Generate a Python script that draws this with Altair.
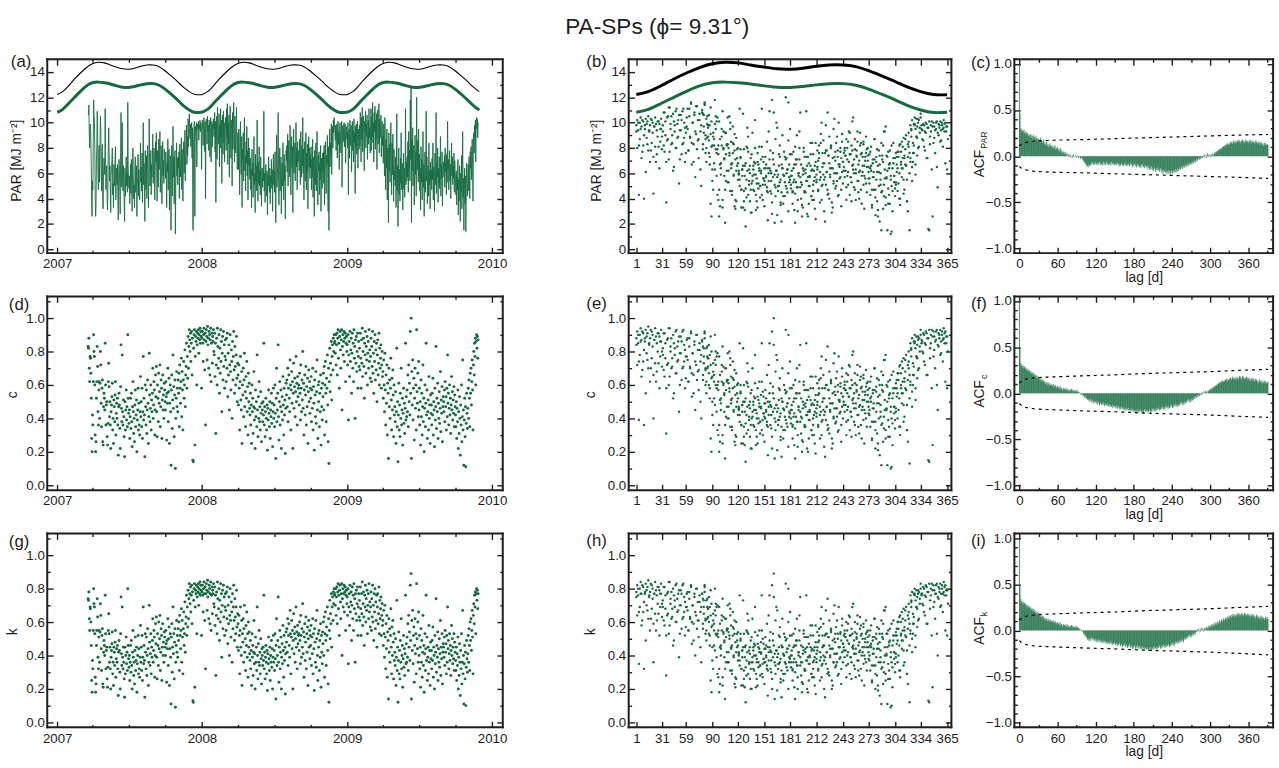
import altair as alt
import pandas as pd

FONT = "Liberation Sans"
INK = "#1e1e1e"
GREEN = "#146b40"
TICK_FS = 13.5
H = 197
W1, W2, W3 = 463, 328, 263

TITLE = "PA-SPs (ϕ= 9.31°)"

# ---------------- daily PAR [MJ m-2] x10 (2007 starts 20 March) ----------------
PAR_2007 = """
107 106 114 90 80 99 98 86 67 36 26 54
47 82 118 105 101 79 39 26 34 68 82 109 93 58 47 75 82 53 80 105 95 64 46 76 83 34 32 62 72 68
59 111 79 47 63 66 38 31 48 81 96 77 54 66 47 29 58 63 69 80 43 52 33 67 62 50 71 81 39 56 64
51 67 46 23 60 71 62 44 28 76 108 59 49 100 57 46 66 53 37 22 64 42 58 73 50 60 45 116 67 55
48 58 36 53 67 44 71 49 30 60 80 57 40 51 33 62 73 45 54 66 26 50 58 75 42 63 46 39 57 84 53
65 46 76 37 57 100 51 68 55 22 78 61 47 74 40 59 82 64 33 54 103 70 50 60 78 43 67 57 72 91 52
62 80 74 39 58 85 69 92 57 38 78 67 49 87 63 73 93 45 61 82 75 36 66 85 58 70 52 79 74 65
56 77 66 33 68 61 87 47 69 79 31 61 74 55 15 71 82 42 63 97 57 73 36 67 78 12 50 64 84 58 72
51 73 64 77 40 83 67 57 72 88 47 79 66 38 73 85 60 69 94 54 76 82 98 67 89 74 103 81 96 107
95 87 99 81 93 100 72 96 16 15 89 98 101 26 84 97 94 100 65 92 99 96 101 86 98 95 102 93 100 97 63
"""
PAR_2008 = """
98 102 94 82 100 104 97 77 101 40 95 103 99 83 105 93 98 78 102 100 73 97 104 69 94 101 81 99 95 103 89
93 108 77 101 37 86 105 71 112 99 83 90 107 65 98 80 111 88 102 52 94 106 75 109 84 100 69 92 104
95 78 111 88 115 67 100 83 106 57 91 113 86 72 102 93 50 108 79 97 116 87 69 105 89 76 98 112 81 63 92
87 63 95 76 43 82 101 67 59 89 33 79 71 92 54 83 104 62 74 46 85 68 97 58 78 39 88 66 80 60
55 72 47 63 33 79 58 68 41 62 89 51 60 29 75 54 66 46 102 59 38 69 52 81 50 62 43 73 56 34 64
58 49 64 54 109 46 60 37 57 67 51 42 62 27 59 50 73 55 45 64 36 58 53 71 48 63 30 57 75 51
62 45 77 55 21 67 90 49 58 71 108 53 35 64 80 46 60 73 28 57 68 50 84 62 39 75 54 66 24 59 78
70 82 61 91 50 76 86 68 57 98 78 43 74 89 64 81 29 72 95 60 77 84 54 73 100 65 80 47 85 69 76
78 62 87 71 51 93 75 57 82 66 104 60 79 39 74 85 54 70 92 47 76 61 83 32 73 89 65 80 56 75
64 81 47 71 57 87 41 73 61 26 78 67 51 84 46 69 93 56 35 74 62 77 43 68 55 82 30 72 58 48 76
61 77 52 82 35 69 85 64 44 74 67 90 55 30 81 15 72 95 65 84 76 99 59 89 97 80 102 92 104 98
94 86 98 78 92 99 72 96 101 83 93 63 97 100 88 76 95 101 49 90 98 85 94 100 81 96 99 68 93 97 87
"""
PAR_2009 = """
93 80 100 43 87 95 72 102 82 90 98 61 88 101 78 94 69 103 84 92 44 97 81 99 75 89 101 64 85 95 79
98 82 108 90 69 104 87 112 77 95 105 84 62 101 93 109 80 99 89 106 71 94 102 83 111 88 96 76
97 111 78 105 89 116 84 100 69 108 93 113 79 102 87 107 63 98 110 83 92 115 76 103 88 96 106 73 91 101 82
89 68 99 79 58 104 75 47 87 64 95 39 80 72 21 92 62 83 53 76 100 67 43 84 59 91 71 38 79 55
62 50 73 33 58 107 46 66 18 55 80 43 63 38 72 52 92 47 59 68 31 56 76 48 64 41 60 111 51 69 54
73 57 85 45 93 64 78 54 118 71 128 21 87 62 96 50 75 82 35 67 90 59 77 42 120 72 63 86 53 95
58 75 46 64 31 81 53 71 39 60 93 49 67 26 59 77 45 63 109 54 73 36 57 66 42 84 51 62 32 69 55
63 47 72 55 84 39 65 59 30 76 51 61 108 44 68 57 80 37 64 52 73 48 60 89 42 67 56 77 34 61 69
65 57 74 49 80 61 69 43 75 53 101 63 71 47 60 78 54 67 40 62 84 58 73 51 66 56 76 45 70 61
52 43 62 35 57 47 71 27 55 38 66 50 22 60 45 74 32 51 93 41 56 15 48 64 36 58 14 46 68 53 42
53 67 46 73 60 40 77 64 81 55 72 87 66 38 83 92 76 98 89 102 69 99 104 95 103 88 100
"""

# ---------------- daily c x100 ----------------
C_2007 = """
83 82 88 70 62 77 76 67 52 28 20 42
36 62 90 80 77 60 30 20 26 52 62 83 71 44 36 57 62 40 61 80 72 49 35 58 63 26 24 47 55 52
45 85 60 36 48 50 29 24 37 62 73 59 41 50 36 22 44 48 53 61 33 40 25 51 47 38 54 62 30 43 49
40 52 36 18 47 55 48 34 22 59 84 46 38 78 44 36 51 41 29 17 50 33 45 57 39 47 35 90 52 43
37 45 28 41 52 34 55 38 23 47 62 44 31 40 26 48 57 35 42 51 20 39 45 58 33 49 36 30 44 65 41
50 35 58 28 44 77 39 52 42 17 60 47 36 57 31 45 63 49 25 41 79 54 38 46 60 33 51 44 55 70 40
48 62 57 30 45 66 53 71 44 29 60 52 38 67 49 56 72 35 47 63 58 28 51 66 45 54 40 61 57 50
45 62 53 27 55 49 70 38 56 64 25 49 60 44 12 57 66 34 51 78 46 59 29 54 63 10 40 52 68 47 58
44 63 55 67 35 72 58 49 62 76 41 68 57 33 63 74 52 60 81 47 66 71 85 58 77 64 89 70 83 93
87 80 91 74 85 92 66 88 15 14 82 90 93 24 77 89 86 92 60 84 91 88 93 79 90 87 94 85 92 89 58
"""
C_2008 = """
88 92 85 74 90 94 87 69 91 36 86 93 89 75 95 84 88 70 92 90 66 87 94 62 85 91 73 89 86 93 80
78 91 65 85 31 72 88 60 94 83 70 76 90 55 82 67 93 74 86 44 79 89 63 92 71 84 58 77 87
75 62 88 70 91 53 79 66 84 45 72 90 68 57 81 74 40 86 63 77 92 69 55 83 71 60 78 89 64 50 73
66 48 72 58 33 62 77 51 45 68 25 60 54 70 41 63 79 47 56 35 65 52 74 44 59 30 67 50 61 46
42 55 36 48 25 60 44 52 31 47 68 39 46 22 57 41 50 35 78 45 29 53 40 62 38 47 33 56 43 26 49
45 38 50 42 85 36 47 29 44 52 40 33 48 21 46 39 57 43 35 50 28 45 41 55 37 49 23 44 58 40
48 35 60 43 16 52 70 38 45 55 84 41 27 50 62 36 47 57 22 44 53 39 65 48 30 58 42 51 19 46 61
54 63 47 70 38 58 66 52 44 75 60 33 57 68 49 62 22 55 73 46 59 64 41 56 77 50 61 36 65 53 58
60 48 67 55 39 72 58 44 63 51 80 46 61 30 57 66 42 54 71 36 59 47 64 25 56 69 50 62 43 58
52 65 38 57 46 70 33 59 49 21 63 54 41 68 37 56 75 45 28 60 50 62 35 55 44 66 24 58 47 39 61
53 67 45 71 30 60 74 55 38 64 58 78 48 26 70 13 62 82 56 73 66 86 51 77 84 69 88 80 90 85
86 79 90 72 84 91 66 88 93 76 85 58 89 92 81 70 87 93 45 83 90 78 86 92 74 88 91 62 85 89 80
"""
C_2009 = """
84 72 90 39 78 86 65 92 74 81 88 55 79 91 70 85 62 93 76 83 40 87 73 89 68 80 91 58 77 86 71
82 69 91 76 58 87 73 94 65 80 88 71 52 85 78 92 67 83 75 89 60 79 86 70 93 74 81 64
77 88 62 83 71 92 67 79 55 86 74 90 63 81 69 85 50 78 87 66 73 91 60 82 70 76 84 58 72 80 65
68 52 75 60 44 79 57 36 66 49 72 30 61 55 16 70 47 63 40 58 76 51 33 64 45 69 54 29 60 42
47 38 56 25 44 82 35 50 14 42 61 33 48 29 55 40 70 36 45 52 24 43 58 37 49 31 46 85 39 53 41
57 44 66 35 72 50 61 42 92 55 100 16 68 48 75 39 58 64 27 52 70 46 60 33 93 56 49 67 41 74
45 58 36 50 24 63 41 55 30 47 72 38 52 20 46 60 35 49 85 42 57 28 44 51 33 65 40 48 25 54 43
48 36 55 42 64 30 50 45 23 58 39 47 83 34 52 44 61 28 49 40 56 37 46 68 32 51 43 59 26 47 53
50 44 57 38 62 47 53 33 58 41 78 49 55 36 46 60 42 52 31 48 65 45 56 39 51 43 59 35 54 47
42 35 50 28 46 38 57 22 44 31 53 40 18 48 36 60 26 41 75 33 45 12 39 52 29 47 11 37 55 43 34
46 58 40 63 52 35 67 55 70 48 62 75 57 33 72 80 66 85 77 88 60 86 90 82 89 76 87
"""

# ---------------- daily k x100 ----------------
K_2007 = """
74 73 78 62 55 69 68 60 46 25 18 37
32 55 80 71 69 53 27 18 23 46 55 74 63 39 32 51 55 36 54 71 64 44 31 52 56 23 21 42 49 46
40 76 53 32 43 45 26 21 33 55 65 53 36 45 32 20 39 43 47 54 29 36 22 45 42 34 48 55 27 38 44
36 46 32 16 42 49 43 30 20 53 75 41 34 69 39 32 45 36 26 15 45 29 40 51 35 42 31 80 46 38
33 40 25 36 46 30 49 34 20 42 55 39 28 36 23 43 51 31 37 45 18 35 40 52 29 44 32 27 39 58 36
45 31 52 25 39 69 35 46 37 15 53 42 32 51 28 40 56 44 22 36 70 48 34 41 53 29 45 39 49 62 36
43 55 51 27 40 59 47 63 39 26 53 46 34 60 44 50 64 31 42 56 52 25 45 59 40 48 36 54 51 45
40 55 47 24 49 44 62 34 50 57 22 44 53 39 11 51 59 30 45 69 41 53 26 48 56 9 36 46 61 42 52
39 56 49 60 31 64 52 44 55 68 36 61 51 29 56 66 46 53 72 42 59 63 76 52 69 57 79 62 74 83
77 71 81 66 76 82 59 78 13 12 73 80 83 21 69 79 77 82 53 75 81 78 83 70 80 77 84 76 82 79 52
"""
K_2008 = """
78 82 76 66 80 84 77 61 81 32 77 83 79 67 85 75 78 62 82 80 59 77 84 55 76 81 65 79 77 83 71
69 81 58 76 28 64 78 53 84 74 62 68 80 49 73 60 83 66 77 39 70 79 56 82 63 75 52 69 77
67 55 78 62 81 47 70 59 75 40 64 80 61 51 72 66 36 77 56 69 82 61 49 74 63 53 69 79 57 45 65
59 43 64 52 29 55 69 45 40 61 22 53 48 62 36 56 70 42 50 31 58 46 66 39 53 27 60 45 54 41
37 49 32 43 22 53 39 46 28 42 61 35 41 20 51 36 45 31 69 40 26 47 36 55 34 42 29 50 38 23 44
40 34 45 37 76 32 42 26 39 46 36 29 43 19 41 35 51 38 31 45 25 40 36 49 33 44 20 39 52 36
43 31 53 38 14 46 62 34 40 49 75 36 24 45 55 32 42 51 20 39 47 35 58 43 27 52 37 45 17 41 54
48 56 42 62 34 52 59 46 39 67 53 29 51 61 44 55 20 49 65 41 53 57 36 50 69 45 54 32 58 47 52
53 43 60 49 35 64 52 39 56 45 71 41 54 27 51 59 37 48 63 32 53 42 57 22 50 61 45 55 38 52
46 58 34 51 41 62 29 53 44 19 56 48 36 61 33 50 67 40 25 53 45 55 31 49 39 59 21 52 42 35 54
47 60 40 63 27 53 66 49 34 57 52 69 43 23 62 12 55 73 50 65 59 77 45 69 75 61 78 71 80 76
77 70 80 64 75 81 59 78 83 68 76 52 79 82 72 62 77 83 40 74 80 69 77 82 66 78 81 55 76 79 71
"""
K_2009 = """
75 64 80 35 69 77 58 82 66 72 78 49 70 81 62 76 55 83 68 74 36 77 65 79 61 71 81 52 69 77 63
73 61 81 68 52 77 65 84 58 71 78 63 46 76 69 82 60 74 67 79 53 70 77 62 83 66 72 57
69 78 55 74 63 82 60 70 49 77 66 80 56 72 61 76 45 69 77 59 65 81 53 73 62 68 75 52 64 71 58
61 46 67 53 39 70 51 32 59 44 64 27 54 49 14 62 42 56 36 52 68 45 29 57 40 61 48 26 53 37
42 34 50 22 39 73 31 45 12 37 54 29 43 26 49 36 62 32 40 46 21 38 52 33 44 28 41 76 35 47 36
51 39 59 31 64 45 54 37 82 49 89 14 61 43 67 35 52 57 24 46 62 41 53 29 83 50 44 60 36 66
40 52 32 45 21 56 36 49 27 42 64 34 46 18 41 53 31 44 76 37 51 25 39 45 29 58 36 43 22 48 38
43 32 49 37 57 27 45 40 20 52 35 42 74 30 46 39 54 25 44 36 50 33 41 61 28 45 38 53 23 42 47
45 39 51 34 55 42 47 29 52 36 69 44 49 32 41 53 37 46 28 43 58 40 50 35 45 38 53 31 48 42
37 31 45 25 41 34 51 20 39 28 47 36 16 43 32 53 23 36 67 29 40 11 35 46 26 42 10 33 49 38 30
41 52 36 56 46 31 60 49 62 43 55 67 51 29 64 71 59 76 69 78 53 77 80 73 79 68 77
"""

# ---------------- clear-sky (green) and top-of-atmosphere (black) PAR by day of year ----------------
CURVE_DOY = [1, 15, 31, 45, 59, 75, 90, 105, 120, 135, 151, 166, 181, 196, 212, 227, 243, 258, 273, 288, 304, 319, 334, 349, 365]
CLEAR_SKY = [10.82, 11.05, 11.55, 12.0, 12.45, 12.9, 13.15, 13.2, 13.15, 13.05, 12.9, 12.8, 12.78, 12.85, 12.98, 13.07, 13.08, 12.95, 12.65, 12.25, 11.8, 11.35, 11.0, 10.8, 10.82]
TOP_ATM = [12.22, 12.45, 12.95, 13.45, 13.9, 14.35, 14.65, 14.77, 14.72, 14.55, 14.38, 14.25, 14.22, 14.3, 14.45, 14.55, 14.55, 14.42, 14.1, 13.7, 13.25, 12.8, 12.45, 12.22, 12.2]

# ---------------- autocorrelation functions x100, lag 0..391 ----------------
ACF_PAR = """
100 47 30 29 27 28 26 29 25 27  24 26 23 25 22 24 21 23 24 20  22 19 23 20 21 18 22 19 20 17
19 16 18 20 15 17 14 16 18 13  15 12 14 16 11 13 10 12 14 11  10 12 9 11 8 10 12 7 9 8
10 6 8 5 7 9 4 6 3 5  4 2 5 3 1 3 0 2 -1 1  2 -1 0 -2 1 2 -1 0 1 -2
0 1 -1 -2 0 -1 -3 -2 -1 -3  -4 -5 -7 -6 -9 -8 -11 -10 -12 -9  -11 -8 -10 -7 -9 -6 -8 -10 -7 -9
-6 -8 -10 -7 -9 -8 -6 -10 -7 -9  -8 -10 -6 -9 -7 -10 -8 -6 -9 -7  -10 -8 -9 -7 -10 -6 -8 -9 -7 -10
-8 -9 -6 -10 -8 -7 -9 -11 -8 -10  -7 -9 -10 -8 -11 -9 -7 -10 -8 -11  -9 -10 -8 -11 -9 -7 -10 -8 -12 -9
-10 -8 -11 -9 -12 -10 -8 -11 -9 -12  -10 -13 -9 -11 -8 -12 -10 -13 -11 -9  -12 -10 -14 -11 -13 -15 -12 -14 -11 -15
-13 -16 -12 -14 -17 -13 -15 -12 -16 -14  -17 -15 -13 -18 -14 -16 -19 -15 -17 -14  -18 -16 -20 -17 -15 -19 -16 -20 -18 -15
-17 -19 -15 -18 -16 -14 -18 -15 -17 -13  -16 -14 -12 -15 -13 -11 -14 -12 -10 -13  -11 -9 -12 -10 -8 -11 -9 -7 -10 -8
-6 -9 -7 -5 -8 -6 -4 -7 -5 -3  -5 -3 -2 -4 -1 -3 -2 0 -2 -1  1 -1 2 0 -2 1 3 -1 2 0
1 -1 2 0 3 1 2 4 3 5  4 6 5 7 6 8 7 9 8 10  9 11 10 12 11 13 12 14 13 12
14 13 15 14 16 13 15 17 14 16  15 17 14 16 18 15 17 16 14 17  16 18 15 17 14 16 18 15 17 16
14 17 15 18 16 14 17 15 16 13  15 17 14 16 13 15 14 16 12 15  13 15 12 14 11 13 15 12 14 12
13 12
"""
ACF_C = """
100 50 33 30 31 28 30 27 29 26  28 25 27 24 26 23 25 22 24 21  23 20 22 19 21 18 20 17 19 16
18 15 17 14 16 13 15 12 14 11  13 10 12 11 9 12 10 8 11 9  10 8 9 7 10 8 6 9 7 5
8 6 7 5 8 4 6 5 3 6  4 5 3 6 4 2 5 3 4 2  4 3 5 2 4 3 1 3 2 4
2 3 1 2 0 1 -1 0 -2 -1  -3 -2 -4 -5 -3 -6 -5 -7 -6 -8  -7 -9 -6 -8 -10 -7 -9 -11 -8 -10
-9 -11 -8 -12 -10 -9 -13 -11 -10 -12  -11 -13 -10 -12 -14 -11 -13 -12 -14 -11  -13 -15 -12 -14 -13 -15 -12 -16 -14 -13
-15 -14 -16 -13 -17 -15 -14 -16 -18 -15  -17 -14 -16 -18 -15 -17 -19 -16 -18 -15  -17 -19 -16 -18 -20 -17 -19 -16 -18 -20
-17 -19 -21 -18 -20 -17 -19 -21 -18 -20  -17 -19 -21 -18 -20 -22 -19 -17 -20 -18  -19 -21 -18 -20 -17 -19 -21 -18 -20 -17
-19 -16 -18 -20 -17 -19 -16 -18 -15 -17  -19 -16 -18 -15 -17 -14 -16 -18 -15 -17  -14 -16 -13 -15 -17 -14 -16 -13 -15 -12
-14 -16 -13 -15 -12 -14 -11 -13 -15 -12  -14 -11 -13 -10 -12 -9 -11 -13 -10 -12  -9 -11 -8 -10 -7 -9 -6 -8 -10 -7
-9 -6 -8 -5 -7 -4 -6 -3 -5 -4  -2 -4 -1 -3 -2 0 -2 1 -1 0  2 0 1 3 1 2 0 3 2 4
3 5 4 6 5 7 6 8 7 9  8 10 9 11 10 12 11 13 12 14  13 12 14 13 15 14 16 13 15 14
16 15 17 14 16 18 15 17 16 14  17 15 18 16 14 17 19 16 18 15  17 19 16 18 15 17 16 18 14 17
15 17 14 16 13 15 17 14 16 12  14 16 13 15 12 14 11 13 15 12  14 11 13 10 12 14 11 13 10 12
11 13
"""
ACF_K = """
100 50 34 31 32 29 31 28 30 27  29 26 28 25 27 24 26 23 25 22  24 21 23 20 22 19 21 18 20 17
19 16 18 15 17 14 16 13 15 12  14 11 13 12 10 13 11 9 12 10  11 9 10 8 11 9 7 10 8 6
9 7 8 6 9 5 7 6 4 7  5 6 4 7 5 3 6 4 5 3  5 4 6 3 5 4 2 4 3 5
3 4 2 3 1 2 0 1 -1 0  -2 -4 -3 -6 -5 -8 -7 -10 -8 -11  -9 -12 -8 -10 -7 -9 -11 -8 -10 -12
-9 -11 -13 -10 -12 -9 -11 -13 -10 -12  -14 -11 -13 -10 -12 -14 -11 -13 -15 -12  -14 -12 -15 -13 -11 -14 -16 -13 -15 -12
-14 -16 -13 -15 -17 -14 -16 -13 -15 -17  -14 -16 -18 -15 -17 -14 -16 -18 -15 -17  -19 -16 -18 -15 -17 -19 -16 -18 -20 -17
-19 -16 -18 -20 -17 -19 -16 -18 -20 -17  -19 -21 -18 -20 -17 -19 -21 -18 -20 -19  -21 -18 -20 -22 -19 -21 -18 -20 -22 -19
-21 -18 -20 -17 -19 -21 -18 -20 -17 -19  -16 -18 -20 -17 -19 -16 -18 -15 -17 -19  -16 -18 -15 -17 -14 -16 -18 -15 -17 -14
-16 -13 -15 -17 -14 -12 -15 -13 -11 -14  -12 -14 -11 -13 -10 -12 -9 -11 -13 -10  -8 -10 -7 -9 -6 -8 -5 -7 -4 -6
-8 -5 -3 -6 -4 -2 -5 -3 -1 -2  1 -1 2 0 -2 1 3 0 2 -1  1 3 0 2 4 1 3 5 2 4
6 3 5 7 4 6 8 5 7 9  6 8 10 7 9 11 8 10 12 9  11 13 10 12 14 11 13 15 12 14
16 13 15 17 14 16 18 15 17 14  16 18 15 17 19 16 18 15 17 19  16 18 15 17 19 16 18 17 15 18
16 18 15 17 14 16 18 15 17 14  16 13 15 17 14 16 13 15 12 14  16 13 15 12 14 11 13 15 12 14
12 14
"""

# ---------------- 95% confidence limits of the ACFs ----------------
BAND_LAG = [0, 3, 8, 15, 25, 40, 60, 100, 150, 200, 250, 300, 350, 391]
BAND_PAR_UP = [0.11, 0.13, 0.145, 0.155, 0.165, 0.17, 0.175, 0.18, 0.19, 0.20, 0.21, 0.22, 0.23, 0.235]
BAND_PAR_LO = [-0.11, -0.13, -0.145, -0.155, -0.165, -0.17, -0.175, -0.18, -0.19, -0.20, -0.21, -0.22, -0.23, -0.24]
BAND_C_UP = [0.11, 0.13, 0.15, 0.16, 0.17, 0.175, 0.18, 0.19, 0.20, 0.215, 0.225, 0.235, 0.25, 0.26]
BAND_C_LO = [-0.11, -0.13, -0.15, -0.16, -0.17, -0.175, -0.18, -0.19, -0.20, -0.215, -0.225, -0.235, -0.25, -0.26]
BAND_K_UP = [0.11, 0.13, 0.15, 0.16, 0.17, 0.175, 0.18, 0.19, 0.20, 0.215, 0.225, 0.235, 0.25, 0.26]
BAND_K_LO = [-0.11, -0.13, -0.15, -0.16, -0.17, -0.175, -0.18, -0.19, -0.20, -0.215, -0.225, -0.235, -0.25, -0.265]

MONTH_TICKS = [1, 31, 59, 90, 120, 151, 181, 212, 243, 273, 304, 334, 365]


def nums(text, scale):
    return [int(v) / scale for v in text.split()]


def daily(chunks, scale):
    parts = []
    for start, text in chunks:
        vals = nums(text, scale)
        dates = pd.date_range(start, periods=len(vals), freq="D")
        parts.append(pd.DataFrame({"date": dates, "v": vals}))
    df = pd.concat(parts, ignore_index=True)
    df["doy"] = df["date"].dt.dayofyear
    return df


par_df = daily([("2007-03-20", PAR_2007), ("2008-01-01", PAR_2008), ("2009-01-01", PAR_2009)], 10)
c_df = daily([("2007-03-20", C_2007), ("2008-01-01", C_2008), ("2009-01-01", C_2009)], 100)
k_df = daily([("2007-03-20", K_2007), ("2008-01-01", K_2008), ("2009-01-01", K_2009)], 100)

curve_doy = pd.DataFrame({"doy": CURVE_DOY, "clear": CLEAR_SKY, "toa": TOP_ATM})
rows = []
for yr in (2007, 2008, 2009):
    for d, g, b in zip(CURVE_DOY, CLEAR_SKY, TOP_ATM):
        dt = pd.Timestamp(yr, 1, 1) + pd.Timedelta(days=d - 1)
        if dt <= pd.Timestamp(2009, 11, 30):
            rows.append({"date": dt, "clear": g, "toa": b})
curve_time = pd.DataFrame(rows)


def acf_frame(text):
    vals = nums(text, 100)
    return pd.DataFrame({"lag": list(range(len(vals))), "acf": vals})


acf_par = acf_frame(ACF_PAR)
acf_c = acf_frame(ACF_C)
acf_k = acf_frame(ACF_K)
band_par = pd.DataFrame({"lag": BAND_LAG, "up": BAND_PAR_UP, "lo": BAND_PAR_LO})
band_c = pd.DataFrame({"lag": BAND_LAG, "up": BAND_C_UP, "lo": BAND_C_LO})
band_k = pd.DataFrame({"lag": BAND_LAG, "up": BAND_K_UP, "lo": BAND_K_LO})


def DT(y, m, d):
    return alt.DateTime(year=y, month=m, date=d)


TIME_X = dict(field="date", type="temporal",
              scale=alt.Scale(domain=[DT(2006, 12, 7), DT(2010, 1, 28)]),
              major=[DT(y, 1, 1) for y in (2007, 2008, 2009, 2010)],
              minor=[DT(y, m, 1) for y in (2007, 2008, 2009) for m in (4, 7, 10)],
              fmt="%Y", title=None)
DOY_X = dict(field="doy", type="quantitative",
             scale=alt.Scale(domain=[-8, 370], nice=False, zero=False),
             major=MONTH_TICKS, minor=[], fmt="d", title=None)
LAG_X = dict(field="lag", type="quantitative",
             scale=alt.Scale(domain=[-8, 399], nice=False, zero=False),
             major=[0, 60, 120, 180, 240, 300, 360], minor=[30, 90, 150, 210, 270, 330, 390],
             fmt="d", title="lag [d]")
PAR_Y = dict(field="v", scale=alt.Scale(domain=[-0.3, 15], nice=False, zero=False),
             major=[0, 2, 4, 6, 8, 10, 12, 14], minor=[1, 3, 5, 7, 9, 11, 13], fmt="d")
FRAC_Y = dict(field="v", scale=alt.Scale(domain=[-0.03, 1.13], nice=False, zero=False),
              major=[0, 0.2, 0.4, 0.6, 0.8, 1.0], minor=[0.1, 0.3, 0.5, 0.7, 0.9, 1.1], fmt=".1f")
ACF_Y = dict(field="acf", scale=alt.Scale(domain=[-1.05, 1.05], nice=False, zero=False),
             major=[-1.0, -0.5, 0.0, 0.5, 1.0],
             minor=[-0.9, -0.8, -0.7, -0.6, -0.4, -0.3, -0.2, -0.1, 0.1, 0.2, 0.3, 0.4, 0.6, 0.7, 0.8, 0.9],
             fmt=".1f")


def make_axis(orient, values, size, labels, fmt=None, title=None, pad=4):
    kw = dict(orient=orient, values=values, tickSize=size, offset=-size, domain=False,
              grid=False, ticks=True, tickColor=INK, tickWidth=1.4, labels=labels, title=title)
    if labels:
        kw.update(labelFont=FONT, labelFontSize=TICK_FS, labelColor=INK, labelPadding=pad,
                  labelFlush=False, labelOverlap=False, labelBound=False, format=fmt)
    if title:
        kw.update(titleFont=FONT, titleFontSize=14, titleFontWeight="normal",
                  titleColor=INK, titlePadding=0)
    return alt.Axis(**kw)


def ex(xs, field=None):
    return alt.X(field or xs["field"], type=xs["type"], scale=xs["scale"], axis=None)


def ey(ys, field=None):
    return alt.Y(field or ys["field"], type="quantitative", scale=ys["scale"], axis=None)


def ghost(src, xs, ys, xaxis, yaxis):
    return alt.Chart(src).mark_point(opacity=0).encode(
        x=alt.X(xs["field"], type=xs["type"], scale=xs["scale"], axis=xaxis),
        y=alt.Y(ys["field"], type="quantitative", scale=ys["scale"], axis=yaxis))


def text(txt, x, y, size, angle=None, align="center"):
    kw = dict(font=FONT, fontSize=size, color=INK, align=align, baseline="middle")
    if angle is not None:
        kw["angle"] = angle
    return alt.Chart(pd.DataFrame({"t": [txt]})).mark_text(**kw).encode(
        text="t:N", x=alt.value(x), y=alt.value(y))


ONE = pd.DataFrame({"g": [0]})


def frame(w):
    def edge(x1, x2, y1, y2):
        return alt.Chart(ONE).mark_rule(color=INK, strokeWidth=2, strokeCap="square").encode(
            x=alt.value(x1), x2=alt.value(x2), y=alt.value(y1), y2=alt.value(y2))
    return [edge(0, w, 0, 0), edge(0, w, H, H), edge(0, 0, 0, H), edge(w, w, 0, H)]


def guards(w, left, right, top=None):
    """Invisible layout guards that fix how far each panel's bounds reach."""
    out = [alt.Chart(ONE).mark_rule(opacity=0, strokeWidth=1).encode(
        x=alt.value(-left), x2=alt.value(w + right), y=alt.value(H / 2))]
    if top is not None:
        out.append(alt.Chart(ONE).mark_rule(opacity=0, strokeWidth=1).encode(
            x=alt.value(w / 2), y=alt.value(-top), y2=alt.value(H / 2)))
    return out


def panel(data_layers, src, xs, ys, w, texts, gl, gr, top=None):
    MJ, MN = 6, 3
    layers = list(data_layers)
    layers += frame(w)
    layers.append(ghost(src, xs, ys,
                        make_axis("bottom", xs["major"], MJ, True, xs["fmt"], xs["title"], pad=4),
                        make_axis("left", ys["major"], MJ, True, ys["fmt"], pad=3)))
    layers.append(ghost(src, xs, ys,
                        make_axis("top", xs["major"], MJ, False),
                        make_axis("right", ys["major"], MJ, False)))
    layers.append(ghost(src, xs, ys,
                        make_axis("bottom", xs["minor"], MN, False) if xs["minor"] else None,
                        make_axis("left", ys["minor"], MN, False)))
    layers.append(ghost(src, xs, ys,
                        make_axis("top", xs["minor"], MN, False) if xs["minor"] else None,
                        make_axis("right", ys["minor"], MN, False)))
    layers += texts
    layers += guards(w, gl, gr, top)
    return alt.layer(*layers).resolve_axis(x="independent", y="independent").properties(width=w, height=H)


PAR_TITLE = "PAR [MJ m⁻²]"
TOP_GUARD = 48
G1L, G1R = 42, 10
G2L, G2R = 50, 10
G3L, G3R = 50, 5

# (a)
pa = panel([
    alt.Chart(par_df).mark_line(color=GREEN, strokeWidth=0.9).encode(x=ex(TIME_X), y=ey(PAR_Y)),
    alt.Chart(curve_time).mark_line(color=GREEN, strokeWidth=3, interpolate="natural").encode(
        x=ex(TIME_X), y=ey(PAR_Y, "clear")),
    alt.Chart(curve_time).mark_line(color="black", strokeWidth=1.1, interpolate="natural").encode(
        x=ex(TIME_X), y=ey(PAR_Y, "toa")),
], par_df.head(1), TIME_X, PAR_Y, W1,
    [text("(a)", -37, 3, 17, align="left"), text(PAR_TITLE, -31, 103, 14, angle=270)],
    G1L, G1R, TOP_GUARD)

# (b)
pb = panel([
    alt.Chart(par_df).mark_circle(color=GREEN, size=6, opacity=1).encode(x=ex(DOY_X), y=ey(PAR_Y)),
    alt.Chart(curve_doy).mark_line(color=GREEN, strokeWidth=3, interpolate="natural").encode(
        x=ex(DOY_X), y=ey(PAR_Y, "clear")),
    alt.Chart(curve_doy).mark_line(color="black", strokeWidth=3, interpolate="natural").encode(
        x=ex(DOY_X), y=ey(PAR_Y, "toa")),
], par_df.head(1), DOY_X, PAR_Y, W2,
    [text("(b)", -43, 3, 17, align="left"), text(PAR_TITLE, -32, 103, 14, angle=270),
     text(TITLE, 29, -33, 23)],
    G2L, G2R, TOP_GUARD)


def acf_panel(acf_df, band_df, lab, sub, sub_bottom, label_y, top=None):
    return panel([
        alt.Chart(acf_df).mark_rule(color=GREEN, strokeWidth=0.75).encode(
            x=ex(LAG_X), y=ey(ACF_Y), y2=alt.datum(0)),
        alt.Chart(band_df).mark_line(color="black", strokeWidth=1.2, strokeDash=[3, 4]).encode(
            x=ex(LAG_X), y=ey(ACF_Y, "up")),
        alt.Chart(band_df).mark_line(color="black", strokeWidth=1.2, strokeDash=[3, 4]).encode(
            x=ex(LAG_X), y=ey(ACF_Y, "lo")),
    ], acf_df.head(1), LAG_X, ACF_Y, W3,
        [text(lab, -44, label_y, 17, align="left"),
         text("ACF", -35, sub_bottom, 14, angle=270, align="left"),
         text(sub, -31, sub_bottom - 29, 9, angle=270, align="left")],
        G3L, G3R, top)


pc = acf_panel(acf_par, band_par, "(c)", "PAR", 120, 3.5, TOP_GUARD)
pf = acf_panel(acf_c, band_c, "(f)", "c", 113, 8)
pi = acf_panel(acf_k, band_k, "(i)", "k", 113, 7.5)


def time_scatter(df, lab, ytitle):
    return panel([
        alt.Chart(df).mark_circle(color=GREEN, size=9, opacity=1).encode(x=ex(TIME_X), y=ey(FRAC_Y)),
    ], df.head(1), TIME_X, FRAC_Y, W1,
        [text(lab, -39, 8.5, 17, align="left"), text(ytitle, -34.5, 100, 14, angle=270)],
        G1L, G1R)


def doy_scatter(df, lab, ytitle):
    return panel([
        alt.Chart(df).mark_circle(color=GREEN, size=6, opacity=1).encode(x=ex(DOY_X), y=ey(FRAC_Y)),
    ], df.head(1), DOY_X, FRAC_Y, W2,
        [text(lab, -43, 7.5, 17, align="left"), text(ytitle, -38.5, 100, 14, angle=270)],
        G2L, G2R)


pd_ = time_scatter(c_df, "(d)", "c")
pe = doy_scatter(c_df, "(e)", "c")
pg = time_scatter(k_df, "(g)", "k")
ph = doy_scatter(k_df, "(h)", "k")

col1 = alt.vconcat(pa, pd_, pg, spacing=44, bounds="flush")
col2 = alt.vconcat(pb, pe, ph, spacing=44, bounds="flush")
col3 = alt.vconcat(pc, pf, pi, spacing=44, bounds="flush")
right = alt.hconcat(col2, col3, spacing=62 - G2R - G3L, bounds="full")
chart = alt.hconcat(col1, right, spacing=111 - G1R - G2L, bounds="full").properties(
    padding={"left": 47 - G1L, "top": 53 - TOP_GUARD, "right": 0, "bottom": 0}, background="white"
).configure_view(stroke=INK, strokeWidth=2).configure(font=FONT)

chart.save("out.html", embed_options={"renderer": "svg", "actions": False})
